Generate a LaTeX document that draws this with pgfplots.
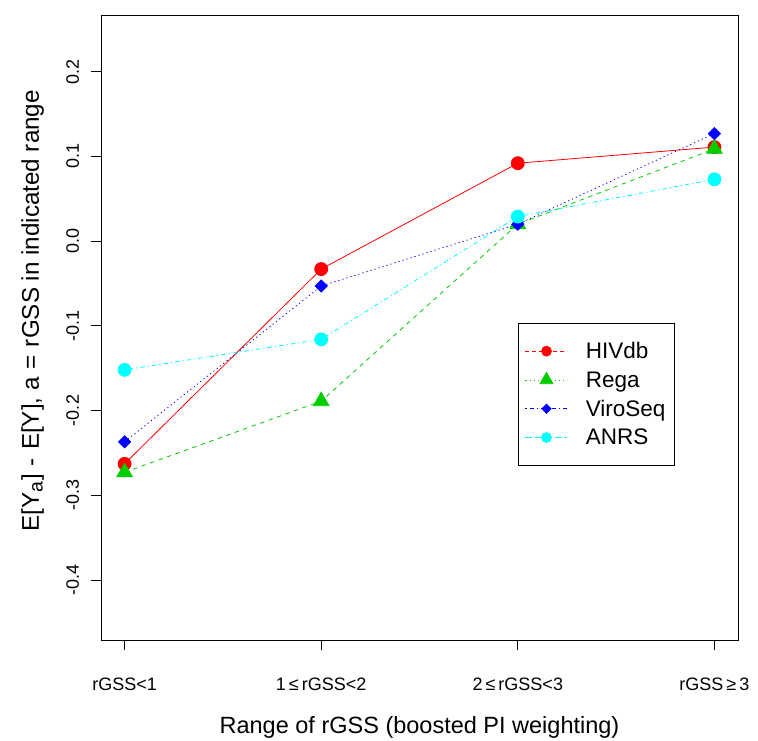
\documentclass[border=0pt]{standalone}
\usepackage{pgfplots}
\pgfplotsset{compat=1.18}
\usepackage{fontspec}
\setmainfont{Liberation Sans}
\definecolor{rgreen}{RGB}{0,205,0}
\definecolor{rcyan}{RGB}{0,255,255}
\begin{document}
\begin{tikzpicture}[x=1pt,y=1pt]
\useasboundingbox (0,0) rectangle (758,740);
\begin{axis}[
  at={(101pt,100pt)}, anchor=south west,
  scale only axis, width=637pt, height=625pt,
  xmin=-0.12, xmax=3.12, ymin=-0.471, ymax=0.267,
  xtick={0,1,2,3},
  xticklabels={rGSS<1, 1\,≤\,rGSS<2, 2\,≤\,rGSS<3, rGSS\,≥\,3},
  ytick={-0.4,-0.3,-0.2,-0.1,0,0.1,0.2},
  yticklabels={-0.4,-0.3,-0.2,-0.1,0.0,0.1,0.2},
  tick align=outside, xtick pos=bottom, ytick pos=left,
  major tick length=10pt,
  tick style={black, line width=0.7pt},
  axis line style={line width=0.8pt},
  ticklabel style={font=\fontsize{18}{21}\selectfont},
  yticklabel style={rotate=90, anchor=base},
  xticklabel style={anchor=base},
  xticklabel shift=40pt,
  yticklabel shift=12pt,
  xlabel={Range of rGSS (boosted PI weighting)},
  ylabel={E[Y\textsubscript{\fontsize{19.5}{20}\selectfont a}]\,\,-\,\,E[Y], a\,\,=\,\,rGSS in indicated range},
  label style={font=\fontsize{23.5}{27}\selectfont},
  ylabel style={font=\fontsize{24.2}{28}\selectfont},
  xlabel style={at={(0.5,0)}, yshift=-93pt, anchor=base},
  ylabel style={at={(0,0.527)}, yshift=62pt, anchor=base},
  legend image code/.code={
    \draw[mark repeat=2,mark phase=2,#1] plot coordinates {(0pt,0pt)(21pt,0pt)(42pt,0pt)};},
  legend style={at={(0.6542,0.5072)}, anchor=north west, draw=black, line width=0.8pt,
    font=\fontsize{22.5}{26}\selectfont, row sep=7.3pt, inner xsep=7pt, inner ysep=17pt,
    column sep=16pt,
    cells={anchor=west, text height=16pt, text depth=5pt}},
  legend cell align=left,
]
\addlegendimage{red, line width=0.7pt, dash pattern=on 4pt off 3pt, mark=*, mark size=5pt, mark options={solid, fill=red}}
\addlegendentry{HIVdb}
\addlegendimage{rgreen, line width=0.7pt, dash pattern=on 1.2pt off 3pt, mark=triangle*, mark size=7.5pt, mark options={solid, fill=rgreen}}
\addlegendentry{Rega}
\addlegendimage{blue, line width=0.7pt, dash pattern=on 1.2pt off 3pt on 4pt off 3pt, mark=square*, mark size=3.3pt, mark options={solid, fill=blue, rotate=45}}
\addlegendentry{ViroSeq}
\addlegendimage{rcyan, line width=0.7pt, dash pattern=on 7pt off 3pt, mark=*, mark size=5pt, mark options={solid, fill=rcyan}}
\addlegendentry{ANRS}
% data
\addplot[forget plot, red, line width=0.8pt, solid, mark=*, mark size=6.5pt, mark options={fill=red}]
  coordinates {(0,-0.263) (1,-0.033) (2,0.092) (3,0.111)};
\addplot[forget plot, rgreen, line width=0.8pt, dash pattern=on 4.5pt off 4.5pt, mark=triangle*, mark size=9pt, mark options={solid, fill=rgreen}]
  coordinates {(0,-0.273) (1,-0.189) (2,0.020) (3,0.109)};
\addplot[forget plot, blue, line width=0.8pt, dash pattern=on 1.2pt off 3pt, mark=square*, mark size=4.3pt, mark options={solid, fill=blue, rotate=45}]
  coordinates {(0,-0.237) (1,-0.053) (2,0.020) (3,0.127)};
\addplot[forget plot, rcyan, line width=0.8pt, dash pattern=on 1.2pt off 3pt on 4.5pt off 3pt, mark=*, mark size=6.5pt, mark options={solid, fill=rcyan}]
  coordinates {(0,-0.152) (1,-0.116) (2,0.029) (3,0.073)};
\end{axis}
\end{tikzpicture}
\end{document}
